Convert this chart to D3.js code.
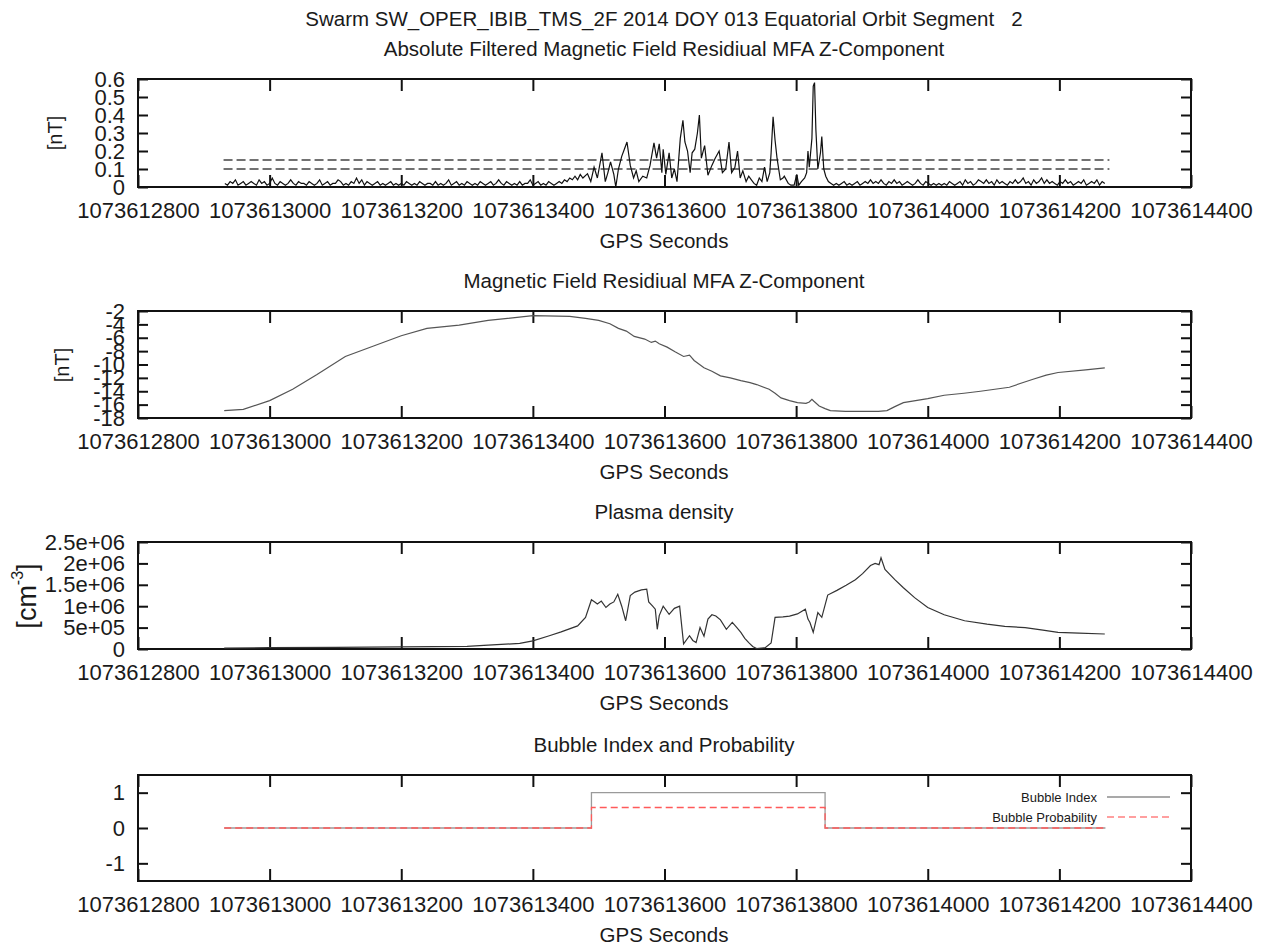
<!DOCTYPE html>
<html>
<head>
<meta charset="utf-8">
<script src="https://cdn.jsdelivr.net/npm/d3@7"></script>
<style>
  body { margin: 0; background: #fff; }
  svg text { font-family: "Liberation Sans", Arial, sans-serif; fill: #1a1a1a; }
</style>
</head>
<body>
<svg id="chart" width="1261" height="945"></svg>
<script>
// GPS second at the left edge of every panel; data times are offsets from it
const T0 = 1073612800;
const xTicks = [1073612800, 1073613000, 1073613200, 1073613400, 1073613600, 1073613800, 1073614000, 1073614200, 1073614400];

const mainTitle = 'Swarm SW_OPER_IBIB_TMS_2F 2014 DOY 013 Equatorial Orbit Segment   2';

// panel 1: absolute filtered residual, quiet parts sampled every 4 s
const absQuietStart1 = 132;
const absQuiet1 = [
  0.02, 0.01, 0.03, 0.02, 0.04, 0.01, 0.02, 0.03, 0.01, 0.02,
  0.03, 0.02, 0.01, 0.04, 0.02, 0.03, 0.01, 0.02, 0.05, 0.02,
  0.01, 0.03, 0.02, 0.01, 0.02, 0.04, 0.02, 0.01, 0.03, 0.02,
  0.02, 0.01, 0.03, 0.02, 0.01, 0.02, 0.04, 0.01, 0.02, 0.03,
  0.01, 0.02, 0.02, 0.04, 0.03, 0.01, 0.02, 0.01, 0.03, 0.02,
  0.05, 0.02, 0.04, 0.01, 0.03, 0.02, 0.01, 0.02, 0.03, 0.01,
  0.02, 0.01, 0.02, 0.03, 0.01, 0.02, 0.01, 0.02, 0.01, 0.03,
  0.02, 0.01, 0.02, 0.01, 0.03, 0.02, 0.01, 0.02, 0.02, 0.01,
  0.03, 0.01, 0.02, 0.01, 0.02, 0.04, 0.01, 0.02, 0.03, 0.01,
  0.02, 0.01, 0.03, 0.02, 0.01, 0.02, 0.01, 0.03, 0.02, 0.01,
  0.02, 0.03, 0.01, 0.02, 0.04, 0.02, 0.01, 0.03, 0.02, 0.01,
  0.02, 0.01, 0.03, 0.01, 0.02, 0.02, 0.04, 0.01, 0.02, 0.03,
  0.01, 0.02, 0.01, 0.03, 0.02, 0.01, 0.02, 0.03, 0.02, 0.04,
  0.03, 0.05, 0.04, 0.06, 0.04, 0.07, 0.05
];
const absActive = [
  [683, 0.074], [688, 0.03], [693, 0.11], [698, 0.05], [705, 0.19], [710, 0.03], [714, 0.08],
  [718, 0.14], [723, 0.07], [726, 0.0], [730, 0.1], [735, 0.17], [739, 0.21], [743, 0.25],
  [748, 0.12], [753, 0.05], [757, 0.09], [761, 0.03], [767, 0.06], [773, 0.05], [778, 0.12],
  [784, 0.245], [788, 0.16], [792, 0.24], [796, 0.08], [798, 0.21], [802, 0.07], [807, 0.19],
  [811, 0.05], [815, 0.1], [819, 0.03], [824, 0.27], [828, 0.37], [831, 0.25], [835, 0.2],
  [839, 0.08], [842, 0.19], [846, 0.21], [850, 0.3], [853, 0.4], [856, 0.16], [861, 0.23],
  [866, 0.065], [872, 0.12], [877, 0.16], [883, 0.2], [888, 0.08], [893, 0.1], [898, 0.25],
  [902, 0.08], [907, 0.11], [911, 0.2], [915, 0.05], [919, 0.09], [924, 0.03], [928, 0.06],
  [932, 0.04], [936, 0.02], [940, 0.01], [944, 0.05], [948, 0.03], [952, 0.11], [956, 0.03],
  [960, 0.08], [962, 0.19], [965, 0.39], [968, 0.26], [971, 0.16], [976, 0.04], [980, 0.05],
  [982, 0.06], [988, 0.02], [992, 0.01], [997, 0.01], [1001, 0.07], [1004, 0.01], [1008, 0.03],
  [1013, 0.05], [1016, 0.08], [1018, 0.2], [1020, 0.11], [1024, 0.27], [1026, 0.56], [1028, 0.58],
  [1030, 0.32], [1033, 0.1], [1037, 0.19], [1039, 0.28], [1042, 0.1], [1045, 0.06], [1049, 0.03]
];
const absQuietStart2 = 1053;
const absQuiet2 = [
  0.02, 0.01, 0.02, 0.01, 0.02, 0.03, 0.01, 0.02, 0.01, 0.02,
  0.03, 0.01, 0.02, 0.03, 0.02, 0.04, 0.02, 0.03, 0.02, 0.04,
  0.02, 0.01, 0.03, 0.02, 0.04, 0.02, 0.03, 0.01, 0.02, 0.03,
  0.02, 0.01, 0.02, 0.04, 0.02, 0.01, 0.03, 0.02, 0.01, 0.02,
  0.01, 0.02, 0.01, 0.02, 0.01, 0.03, 0.02, 0.01, 0.02, 0.03,
  0.01, 0.04, 0.02, 0.03, 0.01, 0.02, 0.04, 0.03, 0.02, 0.04,
  0.02, 0.03, 0.01, 0.04, 0.02, 0.03, 0.02, 0.01, 0.03, 0.02,
  0.04, 0.02, 0.03, 0.05, 0.02, 0.03, 0.01, 0.04, 0.02, 0.03,
  0.05, 0.02, 0.04, 0.02, 0.03, 0.02, 0.01, 0.03, 0.02, 0.04,
  0.02, 0.03, 0.01, 0.02, 0.03, 0.02, 0.04, 0.01, 0.02, 0.03,
  0.02, 0.04, 0.01, 0.03, 0.02
];
const thresholds = [0.1, 0.15];
const thresholdSpan = [130, 1476];
const absTicks = [0, 0.1, 0.2, 0.3, 0.4, 0.5, 0.6];
const absTickLabels = ['0', '0.1', '0.2', '0.3', '0.4', '0.5', '0.6'];

// panel 2: magnetic field residual
const residual = [
  [131, -16.9], [160, -16.7], [200, -15.4], [235, -13.7], [272, -11.5], [315, -8.8],
  [359, -7.2], [400, -5.7], [439, -4.6], [488, -4.1], [532, -3.4], [600, -2.7],
  [656, -2.8], [680, -3.1], [700, -3.4], [717, -3.9], [730, -4.6], [742, -5.0],
  [754, -5.8], [770, -6.2], [780, -6.7], [786, -6.5], [792, -6.9], [804, -7.4],
  [816, -8.1], [829, -8.8], [838, -8.6], [845, -9.4], [860, -10.5], [872, -11.0],
  [885, -11.7], [900, -12.0], [916, -12.4], [930, -12.7], [940, -13.0], [959, -13.7],
  [968, -14.3], [977, -15.0], [990, -15.4], [1002, -15.7], [1015, -15.8], [1020, -15.6],
  [1024, -15.2], [1027, -15.5], [1035, -16.2], [1044, -16.6], [1052, -16.9], [1075, -17.0],
  [1100, -17.0], [1125, -17.0], [1138, -16.9], [1150, -16.3], [1163, -15.7], [1200, -15.1],
  [1225, -14.6], [1255, -14.3], [1280, -14.0], [1324, -13.4], [1345, -12.7], [1360, -12.2],
  [1380, -11.6], [1398, -11.2], [1440, -10.8], [1469, -10.5]
];
const residualTicks = [-18, -16, -14, -12, -10, -8, -6, -4, -2];
const residualTickLabels = ['-18', '-16', '-14', '-12', '-10', '-8', '-6', '-4', '-2'];

// panel 3: plasma density
const density = [
  [131, 2e4], [200, 3e4], [300, 4e4], [400, 5e4], [500, 6e4], [532, 9e4], [580, 1.3e5],
  [600, 1.9e5], [625, 3.1e5], [643, 4.0e5], [668, 5.4e5], [680, 7.4e5], [689, 1.15e6],
  [694, 1.1e6], [698, 1.05e6], [704, 1.12e6], [711, 0.97e6], [717, 1.05e6], [723, 1.1e6],
  [729, 1.28e6], [735, 1.0e6], [741, 0.66e6], [748, 1.25e6], [755, 1.33e6], [765, 1.38e6],
  [773, 1.4e6], [776, 1.1e6], [782, 1.0e6], [786, 0.93e6], [789, 0.46e6], [792, 0.78e6],
  [798, 1.0e6], [807, 0.81e6], [815, 0.95e6], [823, 1.0e6], [829, 0.12e6], [838, 0.31e6],
  [843, 0.2e6], [848, 0.15e6], [854, 0.5e6], [860, 0.3e6], [866, 0.7e6], [872, 0.8e6],
  [878, 0.77e6], [885, 0.68e6], [894, 0.46e6], [903, 0.62e6], [910, 0.5e6], [916, 0.39e6],
  [922, 0.25e6], [928, 0.15e6], [934, 0.06e6], [940, 0.01e6], [947, 0.02e6], [953, 0.03e6],
  [962, 0.14e6], [968, 0.74e6], [980, 0.75e6], [990, 0.77e6], [1002, 0.82e6], [1014, 0.93e6],
  [1018, 0.7e6], [1021, 0.62e6], [1026, 0.39e6], [1033, 0.85e6], [1039, 0.74e6],
  [1048, 1.26e6], [1062, 1.37e6], [1076, 1.49e6], [1090, 1.62e6], [1101, 1.76e6],
  [1113, 1.95e6], [1120, 2.0e6], [1126, 1.97e6], [1129, 2.13e6], [1135, 1.86e6],
  [1150, 1.62e6], [1163, 1.43e6], [1180, 1.2e6], [1200, 0.97e6], [1225, 0.8e6],
  [1256, 0.66e6], [1290, 0.58e6], [1317, 0.53e6], [1348, 0.5e6], [1375, 0.44e6],
  [1398, 0.39e6], [1430, 0.37e6], [1469, 0.35e6]
];
const densityTicks = [0, 5e5, 1e6, 1.5e6, 2e6, 2.5e6];
const densityTickLabels = ['0', '5e+05', '1e+06', '1.5e+06', '2e+06', '2.5e+06'];

// panel 4: bubble index and probability (step series)
const bubbleTime = [131, 689, 1044, 1470];
const bubbleIndex = [0, 1, 0, 0];
const bubbleProb = [0, 0.58, 0, 0];
const bubbleTicks = [-1, 0, 1];
const bubbleTickLabels = ['-1', '0', '1'];
const bubbleLegend = ['Bubble Index', 'Bubble Probability'];

const svg = d3.select('#chart');
const LEFT = 138, RIGHT = 1191, CX = 664;
const x = d3.scaleLinear().domain([T0, T0 + 1600]).range([LEFT, RIGHT]);

svg.append('text')
  .attr('x', CX).attr('y', 18)
  .attr('text-anchor', 'middle').attr('dominant-baseline', 'central')
  .style('font-size', '20.5px').style('white-space', 'pre')
  .text(mainTitle);

function drawPanel(cfg) {
  const g = svg.append('g');
  const y = d3.scaleLinear().domain(cfg.yDomain).range([cfg.bottom, cfg.top]);

  g.append('text')
    .attr('x', CX).attr('y', cfg.top - 31)
    .attr('text-anchor', 'middle').attr('dominant-baseline', 'central')
    .style('font-size', '20.5px')
    .text(cfg.title);

  // x axes, ticks point inward like gnuplot
  g.append('g')
    .attr('transform', `translate(0,${cfg.bottom})`)
    .call(d3.axisBottom(x).tickValues(xTicks).tickSize(-12).tickPadding(15).tickFormat(d3.format('d')));
  g.append('g')
    .attr('transform', `translate(0,${cfg.top})`)
    .call(d3.axisTop(x).tickValues(xTicks).tickSize(-12).tickFormat(''));
  g.append('g')
    .attr('transform', `translate(${LEFT},0)`)
    .call(d3.axisLeft(y).tickValues(cfg.yTicks).tickSize(-10).tickPadding(13)
      .tickFormat((d, i) => cfg.yTickLabels[i]));
  g.append('g')
    .attr('transform', `translate(${RIGHT},0)`)
    .call(d3.axisRight(y).tickValues(cfg.yTicks).tickSize(-10).tickFormat(''));

  g.selectAll('.domain').remove();
  g.selectAll('.tick line').attr('stroke', '#111').attr('stroke-width', 2);
  g.selectAll('.tick text').style('font-size', '22px').attr('fill', '#1a1a1a');

  g.append('rect')
    .attr('x', LEFT).attr('y', cfg.top)
    .attr('width', RIGHT - LEFT).attr('height', cfg.bottom - cfg.top)
    .attr('fill', 'none').attr('stroke', '#111').attr('stroke-width', 2);

  g.append('text')
    .attr('x', CX).attr('y', cfg.bottom + 53)
    .attr('text-anchor', 'middle').attr('dominant-baseline', 'central')
    .style('font-size', '20.5px')
    .text('GPS Seconds');

  return { g, y };
}

const line = y => d3.line().x(d => x(T0 + d[0])).y(d => y(d[1]));

// ---- panel 1
const p1 = drawPanel({
  title: 'Absolute Filtered Magnetic Field Residiual MFA Z-Component',
  top: 79, bottom: 187, yDomain: [0, 0.6], yTicks: absTicks, yTickLabels: absTickLabels
});
const absSeries = []
  .concat(absQuiet1.map((v, i) => [absQuietStart1 + i * 4, v]))
  .concat(absActive)
  .concat(absQuiet2.map((v, i) => [absQuietStart2 + i * 4, v]));
p1.g.selectAll('.thr')
  .data(thresholds)
  .enter()
  .append('line')
  .attr('x1', x(T0 + thresholdSpan[0])).attr('x2', x(T0 + thresholdSpan[1]))
  .attr('y1', d => p1.y(d)).attr('y2', d => p1.y(d))
  .attr('stroke', '#444').attr('stroke-width', 1.3).attr('stroke-dasharray', '9,4');
p1.g.append('path')
  .datum(absSeries)
  .attr('d', line(p1.y))
  .attr('fill', 'none').attr('stroke', '#111').attr('stroke-width', 1.2);
p1.g.append('text')
  .attr('transform', `translate(55,133) rotate(-90)`)
  .attr('text-anchor', 'middle').attr('dominant-baseline', 'central')
  .style('font-size', '20px').text('[nT]');

// ---- panel 2
const p2 = drawPanel({
  title: 'Magnetic Field Residiual MFA Z-Component',
  top: 311, bottom: 418, yDomain: [-18, -2], yTicks: residualTicks, yTickLabels: residualTickLabels
});
p2.g.append('path')
  .datum(residual)
  .attr('d', line(p2.y))
  .attr('fill', 'none').attr('stroke', '#555').attr('stroke-width', 1.2);
p2.g.append('text')
  .attr('transform', `translate(62,365) rotate(-90)`)
  .attr('text-anchor', 'middle').attr('dominant-baseline', 'central')
  .style('font-size', '20px').text('[nT]');

// ---- panel 3
const p3 = drawPanel({
  title: 'Plasma density',
  top: 542, bottom: 649, yDomain: [0, 2.5e6], yTicks: densityTicks, yTickLabels: densityTickLabels
});
p3.g.append('path')
  .datum(density)
  .attr('d', line(p3.y))
  .attr('fill', 'none').attr('stroke', '#333').attr('stroke-width', 1.2);
const cmLabel = p3.g.append('text')
  .attr('transform', `translate(27,596) rotate(-90)`)
  .attr('text-anchor', 'middle').attr('dominant-baseline', 'central')
  .style('font-size', '27px');
cmLabel.append('tspan').text('[cm');
cmLabel.append('tspan').attr('dy', -10).style('font-size', '16px').text('-3');
cmLabel.append('tspan').attr('dy', 10).text(']');

// ---- panel 4
const p4 = drawPanel({
  title: 'Bubble Index and Probability',
  top: 775, bottom: 881, yDomain: [-1.5, 1.5], yTicks: bubbleTicks, yTickLabels: bubbleTickLabels
});
const stepLine = d3.line()
  .x(d => x(T0 + d[0])).y(d => p4.y(d[1]))
  .curve(d3.curveStepAfter);
p4.g.append('path')
  .datum(bubbleTime.map((t, i) => [t, bubbleIndex[i]]))
  .attr('d', stepLine)
  .attr('fill', 'none').attr('stroke', '#9a9a9a').attr('stroke-width', 1.3);
p4.g.append('path')
  .datum(bubbleTime.map((t, i) => [t, bubbleProb[i]]))
  .attr('d', stepLine)
  .attr('fill', 'none').attr('stroke', '#ff5a5a').attr('stroke-width', 1.3).attr('stroke-dasharray', '7,4');

// legend
const legendStyles = [
  { stroke: '#8c8c8c', dash: null },
  { stroke: '#ff8080', dash: '7,4' }
];
const legend = p4.g.selectAll('.legend')
  .data(bubbleLegend)
  .enter()
  .append('g')
  .attr('transform', (d, i) => `translate(0,${797 + i * 20})`);
legend.append('text')
  .attr('x', 1097).attr('y', 0)
  .attr('text-anchor', 'end').attr('dominant-baseline', 'central')
  .style('font-size', '13px').attr('fill', '#2a2a3a')
  .text(d => d);
legend.append('line')
  .attr('x1', 1107).attr('x2', 1170).attr('y1', 0).attr('y2', 0)
  .attr('stroke', (d, i) => legendStyles[i].stroke)
  .attr('stroke-width', 1.5)
  .attr('stroke-dasharray', (d, i) => legendStyles[i].dash);
</script>
</body>
</html>
